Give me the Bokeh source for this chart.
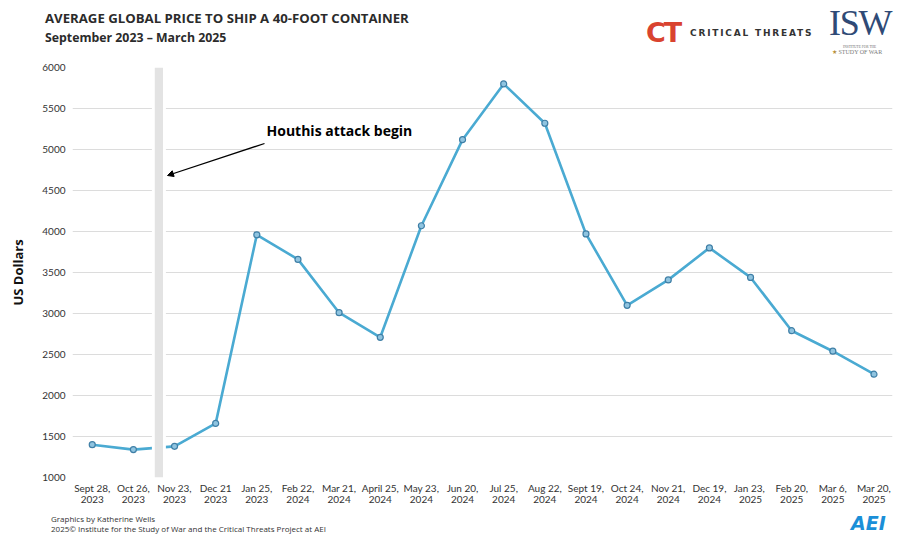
import numpy as np
from bokeh.plotting import figure
from bokeh.layouts import column
from bokeh.models import Label, Arrow, NormalHead, FixedTicker, Range1d, Div
from bokeh.embed import file_html
from bokeh.resources import INLINE

dates = ["Sept 28,\n2023", "Oct 26,\n2023", "Nov 23,\n2023", "Dec 21\n2023", "Jan 25,\n2023",
         "Feb 22,\n2024", "Mar 21,\n2024", "April 25,\n2024", "May 23,\n2024", "Jun 20,\n2024",
         "Jul 25,\n2024", "Aug 22,\n2024", "Sept 19,\n2024", "Oct 24,\n2024", "Nov 21,\n2024",
         "Dec 19,\n2024", "Jan  23,\n2025", "Feb 20,\n2025", "Mar 6,\n2025", "Mar 20,\n2025"]
prices = [1400, 1340, 1380, 1660, 3960, 3660, 3010, 2710, 4070, 5120,
          5800, 5320, 3970, 3100, 3410, 3800, 3440, 2790, 2540, 2260]
y_ticks = [1000, 1500, 2000, 2500, 3000, 3500, 4000, 4500, 5000, 5500, 6000]
event_x = 1.62
event_label = "Houthis attack begin"
title = "AVERAGE GLOBAL PRICE TO SHIP A 40-FOOT CONTAINER"
subtitle = "September 2023 \u2013 March 2025"
credit1 = "Graphics by Katherine Wells"
credit2 = "2025\u00a9 Institute for the Study of War and the Critical Threats Project at AEI"

W = 893
HDR, FTR = 56, 24
MH = 534 - HDR - FTR
FL, FR, FT, FB = 72, 892, 11, 421     # frame inside main figure
X0, X1 = -0.48, 19.45
Y0, Y1 = 1000, 6000


def dx(px):
    return X0 + (px - FL) * (X1 - X0) / (FR - FL)


def dy(py):
    return Y0 + (FB - (py - HDR)) * (Y1 - Y0) / (FB - FT)


# ---------- header ----------
header_html = f"""
<div style="position:relative;width:{W}px;height:{HDR}px;font-family:'Open Sans',sans-serif;">
  <div style="position:absolute;left:45px;top:9px;font-size:13.2px;font-weight:bold;color:#2b2b2b;white-space:nowrap;">{title}</div>
  <div style="position:absolute;left:45px;top:29px;font-size:12.3px;font-weight:bold;color:#2b2b2b;white-space:nowrap;">{subtitle}</div>
  <div style="position:absolute;left:646px;top:20px;font-family:'DejaVu Sans';font-size:27px;font-weight:900;color:#d9432f;letter-spacing:-2px;line-height:26px;">CT</div>
  <div style="position:absolute;left:690px;top:27px;font-family:'DejaVu Sans';font-size:9px;font-weight:bold;color:#333333;letter-spacing:1.8px;white-space:nowrap;line-height:12px;">CRITICAL THREATS</div>
  <div style="position:absolute;left:829px;top:9px;font-family:'Liberation Serif';font-size:36px;color:#2f4a76;letter-spacing:-1.3px;line-height:28px;">ISW</div>
  <div style="position:absolute;left:843px;top:44.5px;font-family:'Liberation Serif';font-size:3.5px;color:#6b6b6b;white-space:nowrap;line-height:4px;">INSTITUTE FOR THE</div>
  <div style="position:absolute;left:832px;top:49px;font-family:'Liberation Serif';font-size:6px;color:#7a7a7a;white-space:nowrap;line-height:6px;"><span style="color:#b8913a;">&#9733;</span> STUDY OF WAR</div>
</div>
"""
hd = Div(text=header_html, width=W, height=HDR, margin=0)

# ---------- main ----------
p = figure(width=W, height=MH, output_backend="svg", toolbar_location=None,
           x_range=Range1d(X0, X1), y_range=Range1d(Y0, Y1),
           min_border_left=FL, min_border_right=W - FR, min_border_top=FT,
           min_border_bottom=MH - FB)
p.outline_line_color = None
p.xgrid.grid_line_color = None
p.ygrid.grid_line_color = "#dcdcdc"
p.ygrid.grid_line_width = 1

xs = np.arange(len(dates))
p.xaxis.ticker = FixedTicker(ticks=list(xs))
p.xaxis.major_label_overrides = {int(i): d for i, d in enumerate(dates)}
p.xaxis.major_label_text_font = "Lato"
p.xaxis.major_label_text_font_size = "10px"
p.xaxis.major_label_text_color = "#333333"
p.xaxis.major_label_text_line_height = 0.95
p.xaxis.axis_line_color = None
p.xaxis.major_tick_line_color = None
p.xaxis.major_tick_out = 0
p.xaxis.minor_tick_line_color = None
p.xaxis.major_label_standoff = 4

p.yaxis.ticker = FixedTicker(ticks=y_ticks)
p.yaxis.major_label_text_font = "Lato"
p.yaxis.major_label_text_font_size = "10px"
p.yaxis.major_label_text_color = "#333333"
p.yaxis.axis_line_color = None
p.yaxis.major_tick_line_color = None
p.yaxis.major_tick_out = 0
p.yaxis.minor_tick_line_color = None
p.yaxis.major_label_standoff = 7
p.yaxis.axis_label = "US Dollars"
p.yaxis.axis_label_text_font = "Open Sans"
p.yaxis.axis_label_text_font_style = "bold"
p.yaxis.axis_label_text_font_size = "13px"
p.yaxis.axis_label_text_color = "#111111"
p.yaxis.axis_label_standoff = 12

p.line(xs, prices, line_color="#4aaad2", line_width=2.6)
p.vbar(x=[event_x], top=[Y1], bottom=[Y0], width=0.34, fill_color="white", line_color=None)
p.vbar(x=[event_x], top=[Y1], bottom=[Y0], width=0.2, fill_color="#e3e3e3", line_color=None)
p.scatter(xs, prices, size=6, fill_color="#8fc4e0", line_color="#3f7fa6", line_width=1.2)

p.add_layout(Arrow(end=NormalHead(size=6, fill_color="black", line_color="black"),
                   x_start=dx(264), y_start=dy(143), x_end=dx(167), y_end=dy(175),
                   line_color="black", line_width=1.3))
p.add_layout(Label(x=dx(266), y=dy(130), text=event_label, text_font="Open Sans",
                   text_font_style="bold", text_font_size="14px", text_color="black",
                   text_baseline="middle", text_align="left"))

# ---------- footer ----------
footer_html = f"""
<div style="position:relative;width:{W}px;height:{FTR}px;font-family:'Open Sans',sans-serif;">
  <div style="position:absolute;left:51px;top:4px;font-size:8px;color:#333333;white-space:nowrap;line-height:10px;">{credit1}</div>
  <div style="position:absolute;left:51px;top:14px;font-size:8px;color:#333333;white-space:nowrap;line-height:10px;">{credit2}</div>
  <div style="position:absolute;left:851px;top:2px;font-family:'DejaVu Sans';font-size:19px;font-weight:bold;font-style:italic;color:#1a8fd8;line-height:22px;">AEI</div>
</div>
"""
ft = Div(text=footer_html, width=W, height=FTR, margin=0)

layout = column(hd, p, ft, spacing=0)
open("out.html", "w").write(file_html(layout, INLINE))
